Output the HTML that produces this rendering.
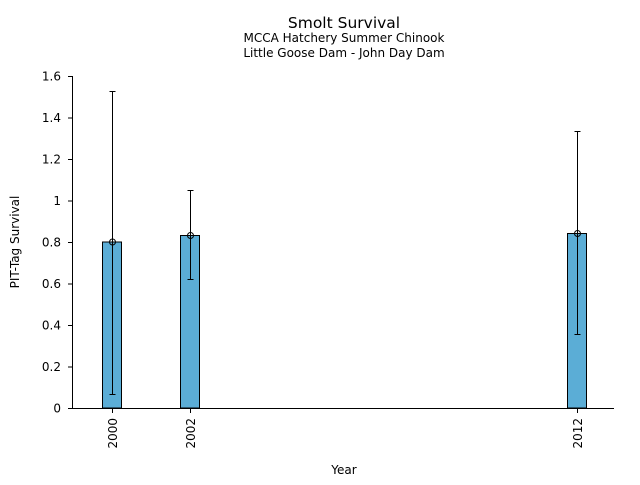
<!DOCTYPE html>
<html><head><meta charset="utf-8"><style>
html,body{margin:0;padding:0;background:#fff}
svg text{font-family:"DejaVu Sans","Liberation Sans",sans-serif;fill:#000}
</style></head><body>
<svg width="640" height="480" viewBox="0 0 640 480" xmlns="http://www.w3.org/2000/svg">
<text x="344" y="28" font-size="15.5" text-anchor="middle">Smolt Survival</text>
<text x="344" y="42" font-size="12" text-anchor="middle">MCCA Hatchery Summer Chinook</text>
<text x="344" y="57" font-size="12" text-anchor="middle">Little Goose Dam - John Day Dam</text>
<g fill="#5badd6" stroke="#000" stroke-width="1">
<rect x="102.5" y="242" width="19" height="166"/>
<rect x="180.5" y="235.5" width="19" height="172.5"/>
<rect x="567.5" y="233.5" width="19" height="174.5"/>
</g>
<g stroke="#000" stroke-width="1" fill="none">
<line x1="72.5" y1="76" x2="72.5" y2="408"/>
<line x1="72" y1="408.5" x2="614" y2="408.5"/>
<line x1="68" y1="76.5" x2="72" y2="76.5"/>
<line x1="68" y1="118" x2="72" y2="118"/>
<line x1="68" y1="159.5" x2="72" y2="159.5"/>
<line x1="68" y1="201" x2="72" y2="201"/>
<line x1="68" y1="242.5" x2="72" y2="242.5"/>
<line x1="68" y1="284" x2="72" y2="284"/>
<line x1="68" y1="325.5" x2="72" y2="325.5"/>
<line x1="68" y1="367" x2="72" y2="367"/>
<line x1="68" y1="408.5" x2="72" y2="408.5"/>
<line x1="112.5" y1="409" x2="112.5" y2="413"/>
<line x1="190.5" y1="409" x2="190.5" y2="413"/>
<line x1="577.5" y1="409" x2="577.5" y2="413"/>
<line x1="112.5" y1="91" x2="112.5" y2="394"/><line x1="109.5" y1="91.5" x2="115.5" y2="91.5"/><line x1="109.5" y1="394.5" x2="115.5" y2="394.5"/>
<line x1="190.5" y1="190" x2="190.5" y2="279"/><line x1="187.5" y1="190.5" x2="193.5" y2="190.5"/><line x1="187.5" y1="279.5" x2="193.5" y2="279.5"/>
<line x1="577.5" y1="131" x2="577.5" y2="335"/><line x1="574.5" y1="131.5" x2="580.5" y2="131.5"/><line x1="574.5" y1="334.5" x2="580.5" y2="334.5"/>
<circle cx="112.5" cy="242" r="3"/><circle cx="190.5" cy="235.5" r="3"/><circle cx="577.5" cy="233.5" r="3"/>
</g>
<g font-size="12" text-anchor="end">
<text x="61" y="80.5">1.6</text><text x="61" y="122">1.4</text><text x="61" y="163.5">1.2</text>
<text x="61" y="205">1</text><text x="61" y="246.5">0.8</text><text x="61" y="288">0.6</text>
<text x="61" y="329.5">0.4</text><text x="61" y="371">0.2</text><text x="61" y="412.5">0</text>
</g>
<g font-size="12" text-anchor="end">
<text transform="translate(117,418) rotate(-90)">2000</text>
<text transform="translate(195,418) rotate(-90)">2002</text>
<text transform="translate(582,418) rotate(-90)">2012</text>
</g>
<text x="344" y="474" font-size="12" text-anchor="middle">Year</text>
<text transform="translate(19,242) rotate(-90)" font-size="12" text-anchor="middle">PIT-Tag Survival</text>
</svg>
</body></html>
